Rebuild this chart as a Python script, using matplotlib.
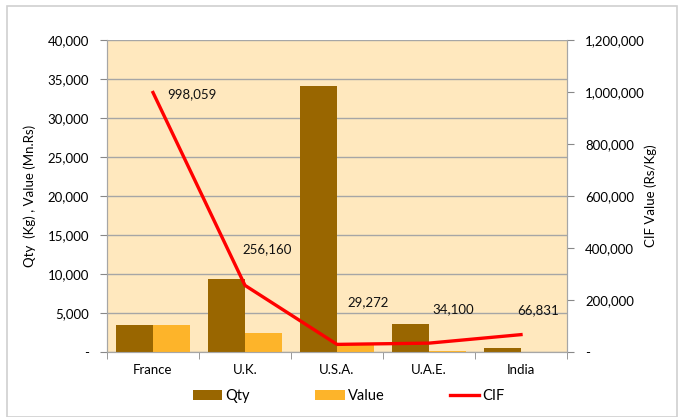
import numpy as np
import matplotlib.pyplot as plt
from matplotlib.ticker import FuncFormatter
from matplotlib.patches import Rectangle

countries = ["France", "U.K.", "U.S.A.", "U.A.E.", "India"]
qty = [3500, 9400, 34100, 3600, 450]
value = [3500, 2420, 850, 150, 30]
cif = [998059, 256160, 29272, 34100, 66831]
cif_labels = ["998,059", "256,160", "29,272", "34,100", "66,831"]

# manual label placement (x offset in categories, y in CIF units)
lbl_dx = [0.42, 0.24, 0.34, 0.26, 0.19]
lbl_y = [993000, 394000, 192000, 164000, 160000]

plt.rcParams['font.family'] = ['Lato', 'DejaVu Sans']
plt.rcParams['font.size'] = 9.5

fig = plt.figure(figsize=(6.81, 4.17), dpi=100)
ax = fig.add_axes([107/681, 1-352/417, (567-107)/681, (352-40)/417])
ax2 = ax.twinx()

x = np.arange(len(countries))
w = 0.4
ax.set_facecolor('#FFE8BE')
ax.bar(x - w/2, qty, w, color='#996600', label='Qty', zorder=3)
ax.bar(x + w/2, value, w, color='#FDB42A', label='Value', zorder=3)
ax2.plot(x, cif, color='#FF0000', lw=2.4, label='CIF', zorder=4)
for i in range(len(x)):
    ax2.text(x[i] + lbl_dx[i], lbl_y[i], cif_labels[i], ha='center', va='center',
             fontsize=9.5, color='#111111')

ax.set_xlim(-0.5, len(x) - 0.5)
ax.set_ylim(0, 40000)
ax2.set_ylim(0, 1200000)
ax.set_yticks(np.arange(0, 40001, 5000))
ax2.set_yticks(np.arange(0, 1200001, 200000))

fmt = FuncFormatter(lambda v, p: '-' if v == 0 else f'{int(v):,}')
ax.yaxis.set_major_formatter(fmt)
ax2.yaxis.set_major_formatter(fmt)

ax.set_xticks(x)
ax.set_xticklabels(countries)
ax.set_xticks(np.arange(-0.5, len(x)), minor=True)
ax.tick_params(axis='x', which='major', length=0, pad=9)
ax.tick_params(axis='x', which='minor', length=5, color='#888888')
ax.tick_params(axis='y', length=5, color='#888888', pad=8)
ax2.tick_params(axis='y', length=5, color='#888888', pad=8)

ax.grid(axis='y', color='#A6A6A6', lw=1, zorder=0)
ax.set_axisbelow(True)
for a in (ax, ax2):
    for s in a.spines.values():
        s.set_color('#A6A6A6')
    a.spines['top'].set_visible(False)

ax.set_ylabel('Qty  (Kg) , Value (Mn.Rs)', labelpad=8)
ax2.set_ylabel('CIF Value (Rs/Kg)', labelpad=0)

h1, l1 = ax.get_legend_handles_labels()
h2, l2 = ax2.get_legend_handles_labels()
fig.legend(h1 + h2, l1 + l2, loc='center', bbox_to_anchor=(0.512, 1-396/417),
           ncol=3, frameon=False, columnspacing=4.5, handlelength=2.0,
           handletextpad=0.2, fontsize=10.5)

fig.patches.append(Rectangle((7/681, 0), 670/681, 1-6/417, transform=fig.transFigure,
                             fill=False, edgecolor='#D0D0D0', lw=1.2))

fig.savefig('out.png', dpi=100)
